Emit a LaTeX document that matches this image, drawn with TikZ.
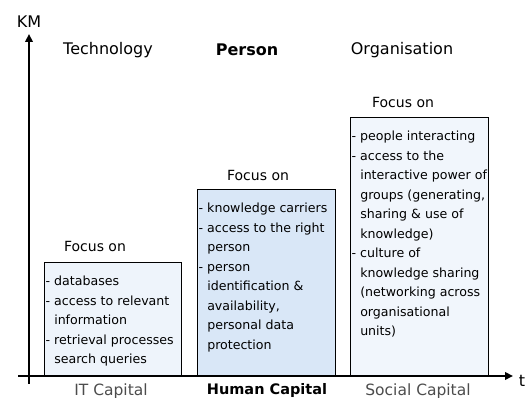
\documentclass[tikz,border=0pt]{standalone}
\usepackage{fontspec}
\setmainfont{DejaVu Sans}
\usetikzlibrary{positioning,arrows.meta}

\definecolor{techfill}{HTML}{EEF4FB}
\definecolor{personfill}{HTML}{D9E7F7}
\definecolor{orgfill}{HTML}{F1F6FC}

\begin{document}
\begin{tikzpicture}[
    x = 1pt, y = 1pt,
    axis/.style = {line width=2pt, -{Triangle[length=8pt,width=7.5pt]}},
    heading/.style = {font=\fontsize{16}{19}\selectfont},
    focus/.style = {font=\fontsize{14}{16}\selectfont},
    capbox/.style = {rectangle, draw, line width=1.3pt, anchor=south west, inner sep=0pt},
    items/.style = {anchor=north west, align=left, inner xsep=1.5pt, inner ysep=14.5pt, font=\fontsize{12.6}{19.5}\selectfont},
    capital/.style = {font=\fontsize{15.5}{18}\selectfont, text=black!70}
]
    \useasboundingbox (0,0) rectangle (528,398);
    % axes
    \coordinate (yfoot) at (29,14);
    \coordinate (ytop) at (29,364);
    \coordinate (xfoot) at (18,22);
    \coordinate (xtop) at (513,22);
    \draw[axis] (yfoot) -- (ytop);
    \draw[axis] (xfoot) -- (xtop);
    \node[heading] (km) at (29,376) {KM};
    \node[heading] (t) at (522,17) {t};
    % columns
    \node[heading] (tech) at (108,348) {Technology};
    \node[heading, font=\fontsize{16}{19}\selectfont\bfseries] (person) at (247,348) {Person};
    \node[heading] (org) at (402,348) {Organisation};
    % boxes
    \node[capbox, fill=techfill, minimum width=137, minimum height=113] (box1) at (44,22) {};
    \node[capbox, fill=personfill, minimum width=138, minimum height=186] (box2) at (197,22) {};
    \node[capbox, fill=orgfill, minimum width=138, minimum height=258] (box3) at (350,22) {};
    \node[focus] (focus1) at (95,151) {Focus on};
    \node[focus] (focus2) at (258,222) {Focus on};
    \node[focus] (focus3) at (403,295) {Focus on};
    \node[items] (list1) at (box1.north west) {- databases\\
        - access to relevant\\ \phantom{- }information\\
        - retrieval processes\\ \phantom{- }search queries};
    \node[items] (list2) at (box2.north west) {- knowledge carriers\\
        - access to the right\\ \phantom{- }person\\
        - person\\ \phantom{- }identification \&\\ \phantom{- }availability,\\
        \phantom{- }personal data\\ \phantom{- }protection};
    \node[items] (list3) at (box3.north west) {- people interacting\\
        - access to the\\ \phantom{- }interactive power of\\
        \phantom{- }groups (generating,\\ \phantom{- }sharing \& use of\\
        \phantom{- }knowledge)\\
        - culture of\\ \phantom{- }knowledge sharing\\
        \phantom{- }(networking across\\ \phantom{- }organisational\\ \phantom{- }units)};
    % capitals
    \node[capital] (itcap) at (111,7) {IT Capital};
    \node[capital, text=black, font=\fontsize{14.5}{18}\selectfont\bfseries] (humancap) at (267,7) {Human Capital};
    \node[capital] (socialcap) at (418,7) {Social Capital};
\end{tikzpicture}
\end{document}
